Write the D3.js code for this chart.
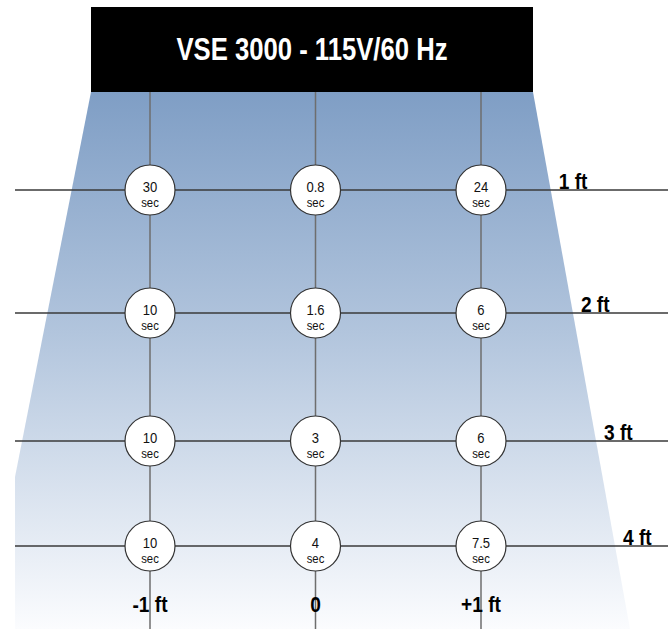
<!DOCTYPE html>
<html>
<head>
<meta charset="utf-8">
<script src="https://cdn.jsdelivr.net/npm/d3@7"></script>
<style>
  html, body { margin: 0; padding: 0; background: #fff; }
  svg text { font-family: "Liberation Sans", Arial, sans-serif; }
</style>
</head>
<body>
<div id="page-content"></div>
<script>
var title = "VSE 3000 - 115V/60 Hz";
var offsets = [-1, 0, 1];
var offsetLabels = ["-1 ft", "0", "+1 ft"];
var distances = [1, 2, 3, 4];
var distanceLabels = ["1 ft", "2 ft", "3 ft", "4 ft"];
// seconds per cell, one row per distance, columns -1 / 0 / +1 ft
var times = [
	["30", "0.8", "24"],
	["10", "1.6", "6"],
	["10", "3", "6"],
	["10", "4", "7.5"]
];

var width = 668, height = 629;
var squeeze = 0.87; // no condensed face installed, so narrow the glyphs by hand

var svg = d3.select("#page-content").append("svg")
	.attr("width", width)
	.attr("height", height);

var x = d3.scaleLinear().domain([-1, 1]).range([150, 481]);
// rows are not evenly spaced in the drawing
var y = d3.scaleLinear().domain([1, 2, 3, 4]).range([190, 313, 441, 546]);

// the beam: trapezoid widening downwards
var beamTop = 92;
var edgeL = d3.scaleLinear().domain([beamTop, height]).range([91, -15]);
var edgeR = d3.scaleLinear().domain([beamTop, height]).range([533, 630]);

var defs = svg.append("defs");
var grad = defs.append("linearGradient")
	.attr("id", "beam")
	.attr("x1", 0).attr("y1", 0).attr("x2", 0).attr("y2", 1);
grad.append("stop").attr("offset", "0%").attr("stop-color", "#7f9ec5");
grad.append("stop").attr("offset", "45%").attr("stop-color", "#b2c5dd");
grad.append("stop").attr("offset", "100%").attr("stop-color", "#fbfcfe");

defs.append("clipPath").attr("id", "clip")
	.append("rect").attr("x", 15).attr("y", 0).attr("width", width).attr("height", height);

svg.append("path")
	.attr("clip-path", "url(#clip)")
	.attr("d", d3.line()([
		[edgeL(beamTop), beamTop], [edgeR(beamTop), beamTop],
		[edgeR(height), height], [edgeL(height), height]
	]) + "Z")
	.attr("fill", "url(#beam)");

// grid lines
svg.selectAll("line.v")
	.data(offsets).enter().append("line")
	.attr("class", "v")
	.attr("x1", function (d) { return x(d); })
	.attr("x2", function (d) { return x(d); })
	.attr("y1", beamTop)
	.attr("y2", height)
	.attr("stroke", "#6e6e6e")
	.attr("stroke-width", 1.5);

svg.selectAll("line.h")
	.data(distances).enter().append("line")
	.attr("class", "h")
	.attr("x1", 15)
	.attr("x2", width)
	.attr("y1", function (d) { return y(d); })
	.attr("y2", function (d) { return y(d); })
	.attr("stroke", "#3a3a3a")
	.attr("stroke-width", 1.5);

// title block
svg.append("rect")
	.attr("x", 91).attr("y", 7)
	.attr("width", 442).attr("height", beamTop - 7)
	.attr("fill", "#000");
svg.append("text")
	.attr("x", 312).attr("y", 60)
	.attr("text-anchor", "middle")
	.attr("fill", "#fff")
	.attr("textLength", 271)
	.attr("lengthAdjust", "spacingAndGlyphs")
	.style("font-size", "31px")
	.style("font-weight", "bold")
	.text(title);

// row labels sit just outside the beam edge
svg.selectAll("text.dist")
	.data(distances).enter().append("text")
	.attr("class", "dist")
	.attr("transform", function (d) {
		return "translate(" + (edgeR(y(d)) + 8) + "," + (y(d) - 1) + ") scale(" + squeeze + ",1)";
	})
	.style("font-size", "22px")
	.style("font-weight", "bold")
	.attr("fill", "#000")
	.text(function (d, i) { return distanceLabels[i]; });

// column labels
svg.selectAll("text.off")
	.data(offsets).enter().append("text")
	.attr("class", "off")
	.attr("transform", function (d) { return "translate(" + x(d) + ",612) scale(" + squeeze + ",1)"; })
	.attr("text-anchor", "middle")
	.style("font-size", "22px")
	.style("font-weight", "bold")
	.attr("fill", "#000")
	.text(function (d, i) { return offsetLabels[i]; });

// cells
var cells = [];
times.forEach(function (row, r) {
	row.forEach(function (t, c) {
		cells.push({ dist: distances[r], off: offsets[c], t: t });
	});
});

var g = svg.selectAll("g.cell")
	.data(cells).enter().append("g")
	.attr("class", "cell")
	.attr("transform", function (d) { return "translate(" + x(d.off) + "," + y(d.dist) + ")"; });

g.append("circle")
	.attr("r", 25)
	.attr("fill", "#fff")
	.attr("stroke", "#333")
	.attr("stroke-width", 1.2);

g.append("text")
	.attr("transform", "translate(0,2) scale(" + squeeze + ",1)")
	.attr("text-anchor", "middle")
	.style("font-size", "15px")
	.attr("fill", "#111")
	.text(function (d) { return d.t; });

g.append("text")
	.attr("transform", "translate(0,17) scale(" + squeeze + ",1)")
	.attr("text-anchor", "middle")
	.style("font-size", "13px")
	.attr("fill", "#111")
	.text("sec");
</script>
</body>
</html>
